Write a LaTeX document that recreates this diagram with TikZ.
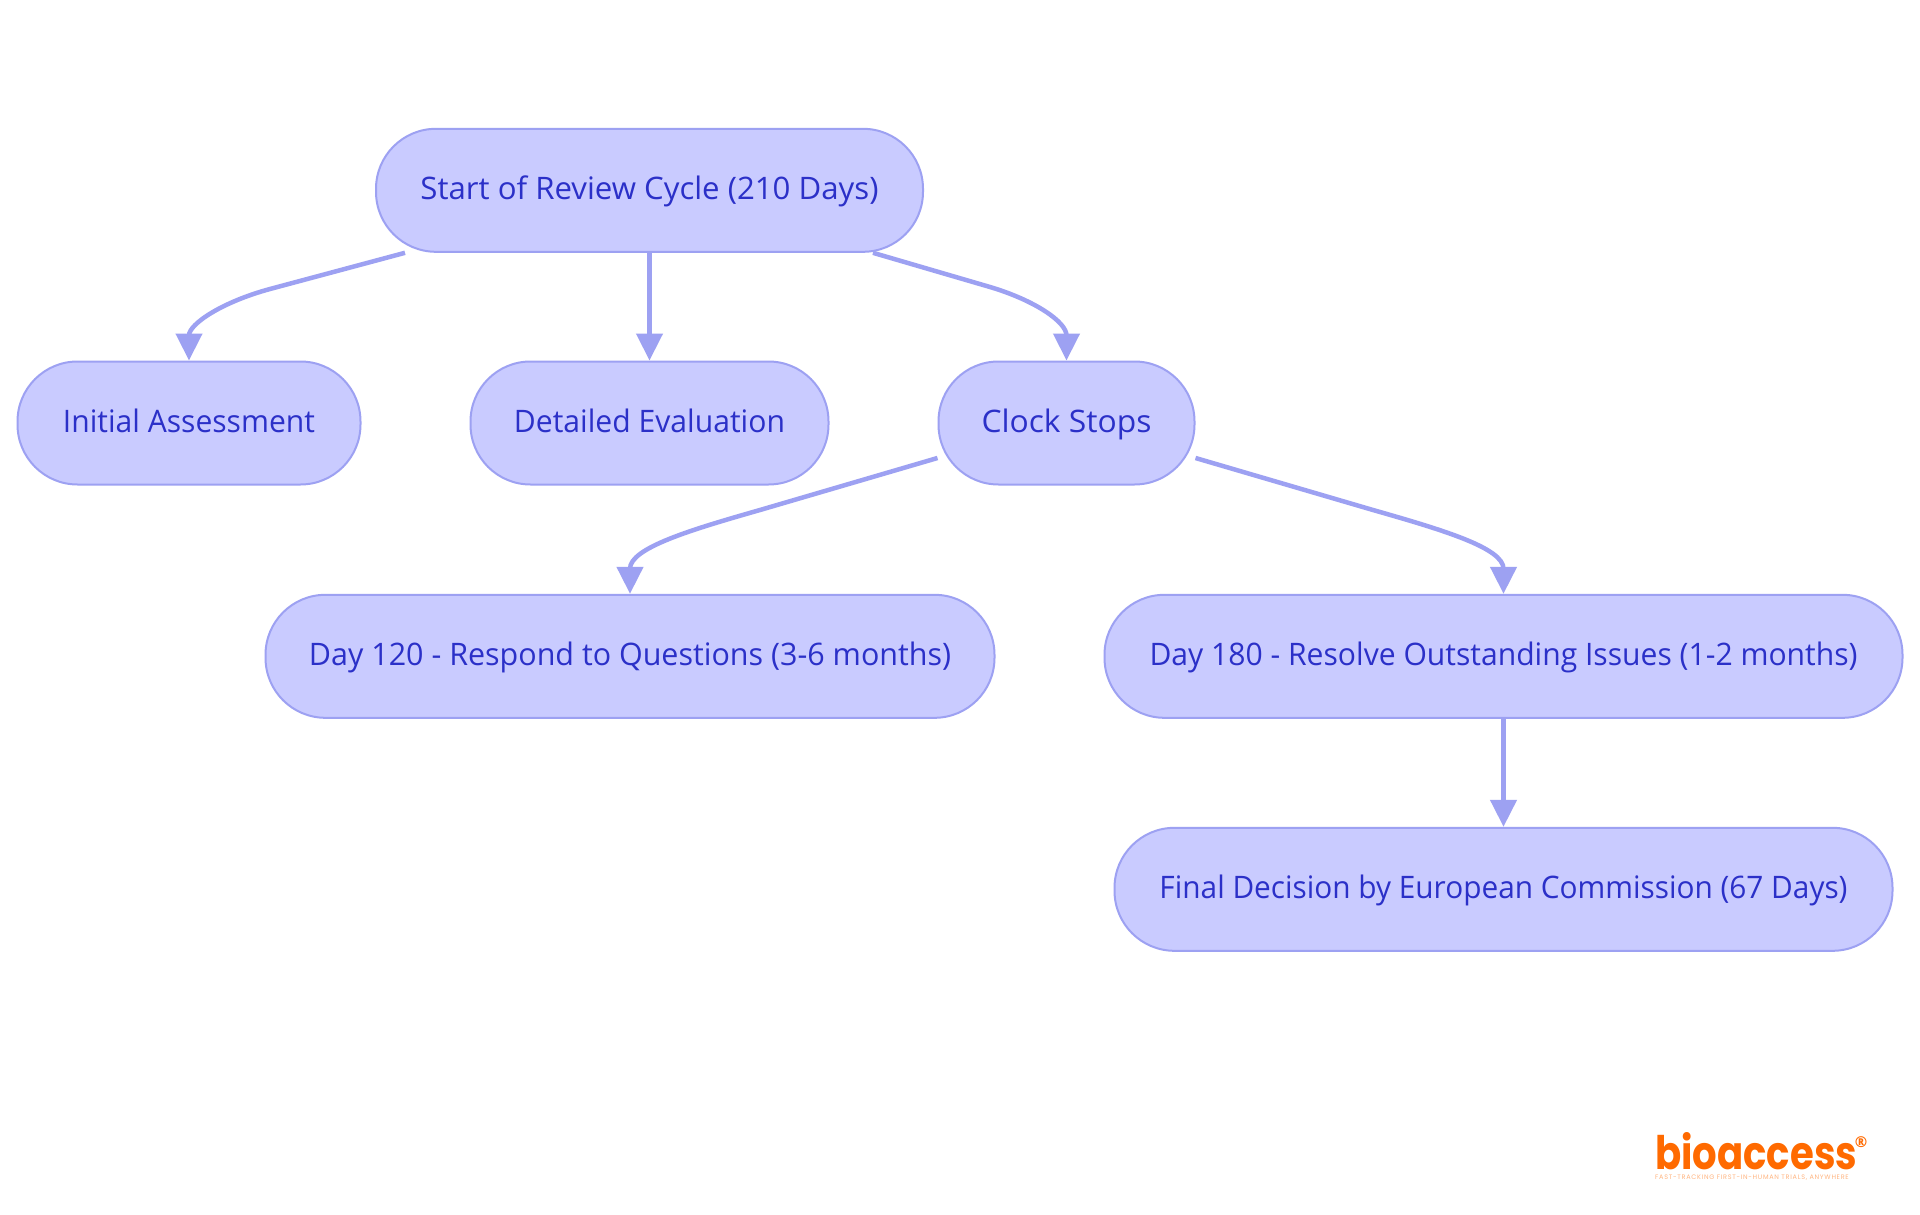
\documentclass[tikz,border=0pt]{standalone}
\usepackage{fontspec}
\usepackage{graphicx}
\setmainfont{Open Sans}
\newfontfamily\logofont{Poppins}
\newfontfamily\logotag[LetterSpace=11]{Poppins}
\usetikzlibrary{arrows.meta,positioning}
\definecolor{nodefill}{HTML}{C9CBFF}
\definecolor{nodeline}{HTML}{9DA1F2}
\definecolor{nodetext}{HTML}{2B30C8}
\definecolor{logoorange}{HTML}{FF6A00}
\newcommand{\fitw}[2]{\resizebox{#1}{\height}{#2}}
\tikzset{
  flow/.style={draw=nodeline,fill=nodefill,line width=2pt,rounded corners=60pt,
    minimum height=123pt,inner sep=0pt,text=nodetext,
    font=\fontsize{31}{36}\selectfont,text height=24pt,text depth=6pt},
  conn/.style={draw=nodeline,line width=4.5pt,-{Triangle[length=27pt,width=26pt]}}
}
\begin{document}
\begin{tikzpicture}[x=1pt,y=-1pt]
\useasboundingbox (0,0) rectangle (1920,1215);
\fill[white] (0,0) rectangle (1920,1215);
\node[flow,minimum width=547pt] (start) at (649.5,190.3) {\fitw{458pt}{Start of Review Cycle (210 Days)}};
\node[flow,minimum width=343pt] (init) at (189,423) {\fitw{252pt}{Initial Assessment}};
\node[flow,minimum width=358pt] (detail) at (649.5,423) {\fitw{271pt}{Detailed Evaluation}};
\node[flow,minimum width=256pt] (clock) at (1066.5,423) {\fitw{170pt}{Clock Stops}};
\node[flow,minimum width=729pt] (d120) at (630,656.3) {\fitw{642pt}{Day 120 - Respond to Questions (3-6 months)}};
\node[flow,minimum width=798pt] (d180) at (1503.5,656.3) {\fitw{708pt}{Day 180 - Resolve Outstanding Issues (1-2 months)}};
\node[flow,minimum width=778pt] (final) at (1503.5,889.3) {\fitw{688pt}{Final Decision by European Commission (67 Days)}};
\draw[conn] ([xshift=30pt]start.south west) -- (270,289) .. controls (222,302) and (189,324) .. ([yshift=25pt]init.north) -- (init.north);
\draw[conn] (start.south) -- (detail.north);
\draw[conn] ([xshift=-51pt]start.south east) -- (990,287) .. controls (1035,300.4) and (1066.5,322) .. ([yshift=25pt]clock.north) -- (clock.north);
\draw[conn] ([yshift=-35pt]clock.west) -- (760,510) .. controls (690,530) and (630,548) .. ([yshift=25pt]d120.north) -- (d120.north);
\draw[conn] ([yshift=-35pt]clock.east) -- (1373,510) .. controls (1443,530) and (1503.5,548) .. ([yshift=25pt]d180.north) -- (d180.north);
\draw[conn] (d180.south) -- (final.north);
\node[anchor=base west,inner sep=0pt,text=logoorange,font=\logofont\bfseries\fontsize{50}{50}\selectfont] (logo) at (1655,1169) {\resizebox{202pt}{37pt}{bioaccess}};
\node[anchor=center,inner sep=0pt,text=logoorange,font=\bfseries\fontsize{15}{15}\selectfont] (reg) at (1861,1142) {®};
\node[anchor=base west,inner sep=0pt,text=logoorange!50,font=\logotag\fontsize{6.5}{7}\selectfont] (tag) at (1655,1179) {FAST-TRACKING FIRST-IN-HUMAN TRIALS, ANYWHERE};
\end{tikzpicture}
\end{document}
